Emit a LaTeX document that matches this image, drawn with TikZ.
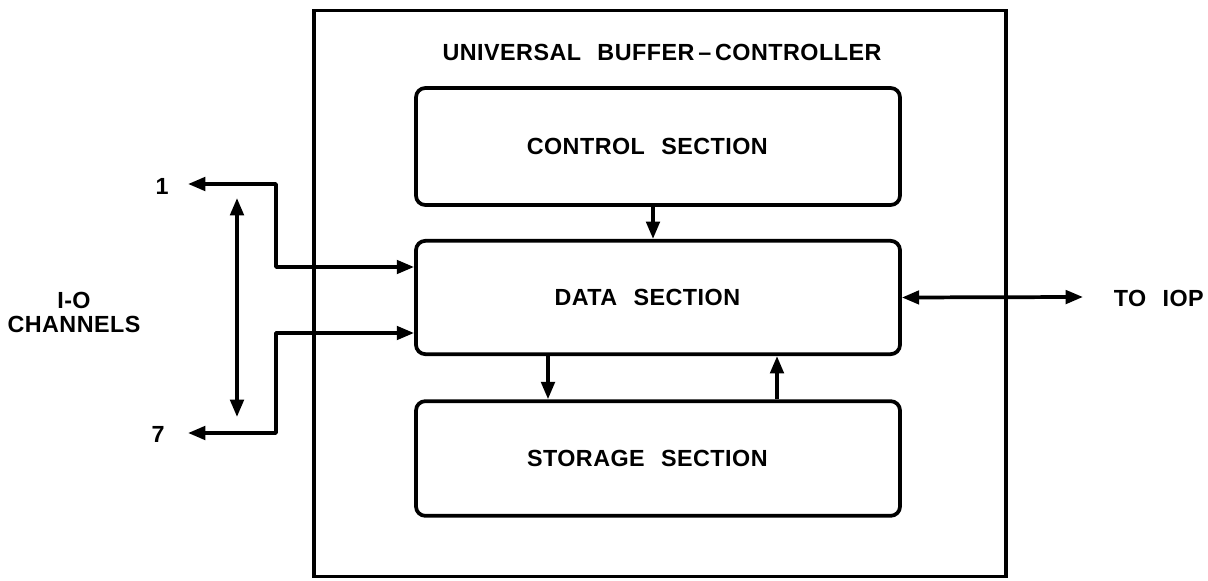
\documentclass[tikz,border=0pt]{standalone}
\usepackage{fontspec}
\setmainfont{Liberation Sans}
\newfontfamily\lfont[LetterSpace=2,BoldFont={Liberation Sans Bold}]{Liberation Sans}
\usetikzlibrary{arrows.meta}
\newcommand{\wgap}{\hspace{0.7em}}
\newcommand{\txtleft}{\hspace*{-16pt}}
\begin{document}
\begin{tikzpicture}[x=0.75pt,y=-0.75pt,
  line width=2.8pt,
  tip/.tip={Triangle[length=13pt,width=10pt]},
  sect/.style={draw,rounded corners=7pt,minimum width=363pt,inner sep=0pt,font=\lfont\bfseries\fontsize{17.5}{19}\selectfont},
  lbl/.style={font=\lfont\bfseries\fontsize{17.5}{19}\selectfont,inner sep=0pt},
  conn/.style={-tip,line join=round}
]
\useasboundingbox (0,0) rectangle (1208,581);
\node[draw,line width=2.4pt,minimum width=519pt,minimum height=425pt,inner sep=0pt] (outer) at (660,293.5) {};
\node[lbl] (title) at (662,52) {UNIVERSAL\wgap BUFFER\,–\,CONTROLLER};
\node[sect,minimum height=87.75pt] (ctrl) at (658,146.5) {\txtleft CONTROL\wgap SECTION};
\node[sect,minimum height=85pt] (data) at (658,297.5) {\txtleft DATA\wgap SECTION};
\node[sect,minimum height=86pt] (stor) at (658,458.5) {\txtleft STORAGE\wgap SECTION};
\node[lbl] (one) at (162,186) {1};
\node[lbl] (seven) at (158,434) {7};
\node[lbl,align=center] (io) at (74,312) {I-O\\[-1pt]CHANNELS};
\node[lbl,anchor=west] (iop) at (1112,298) {TO\wgap IOP};
\coordinate (c1) at (188,184);
\coordinate (c7) at (188,433);
\coordinate (vt) at (237,198);
\coordinate (vb) at (237,417);
\coordinate (r) at (1083,297);
% control -> data
\draw[conn] (ctrl.south -| 653,0) -- (data.north -| 653,0);
% data <-> storage
\draw[conn] (data.south -| 548,0) -- (stor.north -| 548,0);
\draw[conn] (stor.north -| 777,0) -- (data.south -| 777,0);
% left channels
\draw[tip-tip,line join=round] (c1) -- (276,184) -- (276,267) -- (data.west |- 0,267);
\draw[tip-tip,line join=round] (c7) -- (276,433) -- (276,333) -- (data.west |- 0,333);
\draw[tip-tip] (vt) -- (vb);
% right
\draw[tip-tip] (data.east) -- (r);
\end{tikzpicture}
\end{document}
